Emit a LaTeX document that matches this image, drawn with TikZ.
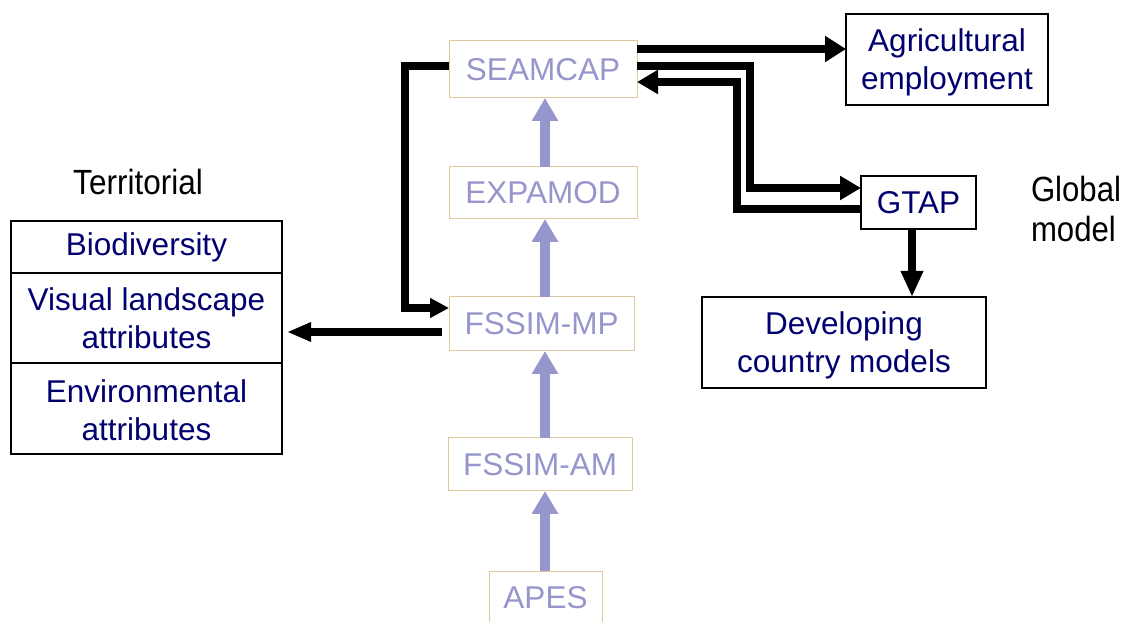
\documentclass[tikz,border=0pt]{standalone}
\usepackage{fontspec}
\setmainfont{Liberation Sans}
\usetikzlibrary{arrows.meta}
\definecolor{navy}{RGB}{0,0,110}
\definecolor{lavender}{RGB}{150,150,204}
\definecolor{tan}{RGB}{222,200,160}
% invisible strut that sets the height of a first line
\newcommand{\tallline}[1]{\rule{0pt}{#1}}
\begin{document}
\begin{tikzpicture}[x=1pt,y=1pt,
  every node/.style={inner sep=0pt, outer sep=0pt, align=center},
  bigtext/.style={font=\fontsize{31.5}{38}\selectfont},
  chainbox/.style={bigtext, draw=tan, line width=1pt, text=lavender},
  outbox/.style={bigtext, draw=black, line width=1.4pt, text=navy},
  sidelabel/.style={font=\fontsize{35}{37}\selectfont, text=black},
  uparrow/.style={draw=lavender, line width=10pt,
    -{Triangle[length=23pt,width=25pt]}},
  flow/.style={draw=black, line width=7.5pt, line join=miter,
    -{Triangle[length=21pt,width=23pt]}}]
\useasboundingbox (0,0) rectangle (1121,621);

% model chain
\node[chainbox, minimum width=188pt, minimum height=57pt] (seam) at (543,551.5) {SEAMCAP};
\node[chainbox, minimum width=188pt, minimum height=52pt] (expa) at (543,428) {EXPAMOD};
\node[chainbox, minimum width=185pt, minimum height=54pt] (fmp) at (541.5,297) {FSSIM-MP};
\node[chainbox, minimum width=184pt, minimum height=53pt] (fam) at (540,156.5) {FSSIM-AM};
\node[chainbox, minimum width=113pt, minimum height=53pt] (apes) at (545.5,23.5) {APES};

% outputs on the right
\node[outbox, minimum width=202pt, minimum height=91pt] (agri) at (947,561.5) {\tallline{28pt}Agricultural\\employment};
\node[outbox, minimum width=115pt, minimum height=53pt] (gtap) at (918.5,418.5) {GTAP};
\node[outbox, minimum width=284pt, minimum height=91pt] (dev) at (844,278.5) {\tallline{29pt}Developing\\country models};

% territorial indicators
\node[outbox, minimum width=271pt, minimum height=52pt] (bio) at (146.5,374) {Biodiversity};
\node[outbox, minimum width=271pt, minimum height=90pt] (vis) at (146.5,303) {Visual landscape\\attributes};
\node[outbox, minimum width=271pt, minimum height=91pt] (env) at (146.5,212.5) {\tallline{26pt}Environmental\\attributes};

% group labels
\node[sidelabel, anchor=base, xscale=0.9] (terr) at (138,426) {Territorial};
\node[sidelabel, anchor=base west, xscale=0.89] (glob) at (1031,419) {Global};
\node[sidelabel, anchor=base west, xscale=0.89] (globm) at (1031,379) {model};

% upward data flow through the chain
\draw[uparrow] (apes.north -| 545,0) -- (fam.south -| 545,0);
\draw[uparrow] (fam.north -| 545,0) -- (fmp.south -| 545,0);
\draw[uparrow] (fmp.north -| 545,0) -- (expa.south -| 545,0);
\draw[uparrow] (expa.north -| 545,0) -- (seam.south -| 545,0);

% links between models
\draw[flow, -{Triangle[length=21pt,width=25pt]}] ([yshift=20.5pt]seam.east) -- ([yshift=20.5pt]seam.east -| agri.west);
\draw[flow] ([yshift=3.5pt]seam.east) -- ++(113,0) |- ([yshift=14.5pt]gtap.west);
\draw[flow] ([yshift=-6.5pt]gtap.west) -- ++(-124,0) |- ([yshift=-12.5pt]seam.east);
\draw[flow, -{Triangle[length=19pt,width=19pt]}] ([yshift=3.5pt]seam.west) -- ++(-44,0) |- ([yshift=16pt]fmp.west);
\draw[flow, shorten >=5pt, -{Triangle[length=24pt,width=18pt]}] ([xshift=-7pt,yshift=-8pt]fmp.west) -- ([yshift=-8pt]fmp.west -| vis.east);
\draw[flow, -{Triangle[length=26pt,width=21pt]}] ([xshift=-6.5pt]gtap.south) -- ([xshift=-6.5pt]gtap.south |- dev.north);
\end{tikzpicture}
\end{document}
